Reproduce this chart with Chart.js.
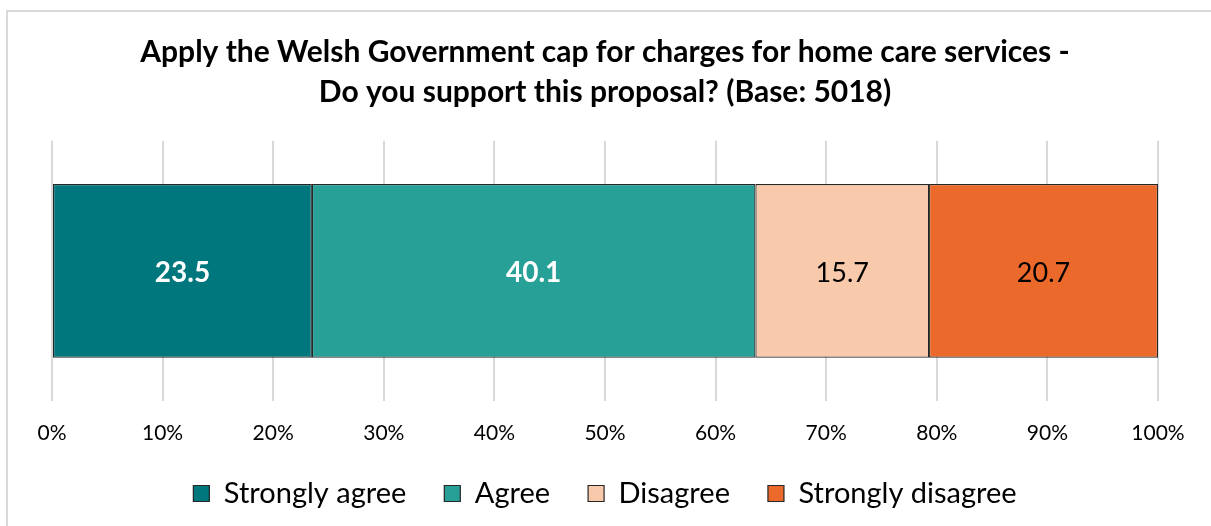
<!DOCTYPE html>
<html>
<head>
<meta charset="utf-8">
<script src="https://cdn.jsdelivr.net/npm/chart.js@4.4.1/dist/chart.umd.min.js"></script>
<style>
  html, body { margin: 0; padding: 0; background: #fff; }
  #wrap { width: 1211px; height: 526px; }
</style>
</head>
<body>
<div id="wrap"><canvas id="myChart"></canvas></div>
<script>
const categories = ['Do you support this proposal?']
const seriesNames = ['Strongly agree', 'Agree', 'Disagree', 'Strongly disagree']
const stronglyAgree = [23.5]
const agree = [40.1]
const disagree = [15.7]
const stronglyDisagree = [20.7]
const seriesColors = ['#00767d', '#27a197', '#f8c9aa', '#eb6a2b']
const labelColors = ['#ffffff', '#ffffff', '#000000', '#000000']
const labelBold = [true, true, false, false]

const FONT = 'Lato, "Noto Sans", sans-serif'

// outer frame like the office chart border
const framePlugin = {
  id: 'frame',
  beforeDraw: chart => {
    let ctx = chart.ctx
    ctx.save()
    ctx.fillStyle = '#fff'
    ctx.fillRect(0, 0, chart.width, chart.height)
    ctx.strokeStyle = '#d9d9d9'
    ctx.lineWidth = 2
    ctx.strokeRect(7, 11, chart.width + 20, chart.height + 20)
    ctx.restore()
  }
}

// value labels in the middle of each segment
const valueLabels = {
  id: 'valueLabels',
  afterDatasetsDraw: chart => {
    let ctx = chart.ctx
    ctx.save()
    ctx.textAlign = 'center'
    ctx.textBaseline = 'middle'
    chart.data.datasets.forEach((ds, i) => {
      const meta = chart.getDatasetMeta(i)
      meta.data.forEach((bar, j) => {
        const p = bar.getProps(['x', 'y', 'base'], true)
        ctx.font = labelBold[i] ? 'bold 28px ' + FONT : '27px ' + FONT
        ctx.fillStyle = labelColors[i]
        ctx.fillText(ds.data[j].toFixed(1), (p.x + p.base) / 2, p.y + 2)
      })
    })
    ctx.restore()
  }
}

const allSeries = [stronglyAgree, agree, disagree, stronglyDisagree]

new Chart('myChart', {
  type: 'bar',
  plugins: [framePlugin, valueLabels],
  data: {
    labels: categories,
    datasets: allSeries.map((vals, i) => ({
      label: seriesNames[i],
      data: vals,
      backgroundColor: seriesColors[i],
      borderColor: '#262626',
      borderWidth: 1.2,
      borderSkipped: false,
      categoryPercentage: 1,
      barPercentage: 0.668
    }))
  },
  options: {
    indexAxis: 'y',
    responsive: true,
    maintainAspectRatio: false,
    animation: false,
    layout: { padding: { left: 52, right: 53, top: 0, bottom: 8 } },
    scales: {
      x: {
        stacked: true,
        min: 0,
        max: 100,
        border: { display: false },
        grid: { color: '#d9d9d9', lineWidth: 2, drawTicks: false },
        ticks: {
          stepSize: 10,
          padding: 20,
          color: '#000',
          font: { family: FONT, size: 21 },
          callback: v => v + '%'
        },
        // only keep room for the labels, not a second padding below them
        afterFit: scale => {
          scale.height = 40
        }
      },
      y: {
        stacked: true,
        display: false
      }
    },
    plugins: {
      title: {
        display: true,
        text: ['Apply the Welsh Government cap for charges for home care services -', 'Do you support this proposal? (Base: 5018)'],
        color: '#000',
        font: { family: FONT, size: 30, weight: 'bold', lineHeight: 1.33 },
        padding: { top: 32, bottom: 29 }
      },
      legend: {
        position: 'bottom',
        labels: {
          color: '#000',
          font: { family: FONT, size: 29 },
          boxWidth: 16,
          boxHeight: 16,
          padding: 38
        }
      },
      tooltip: { enabled: false }
    }
  }
})
</script>
</body>
</html>
